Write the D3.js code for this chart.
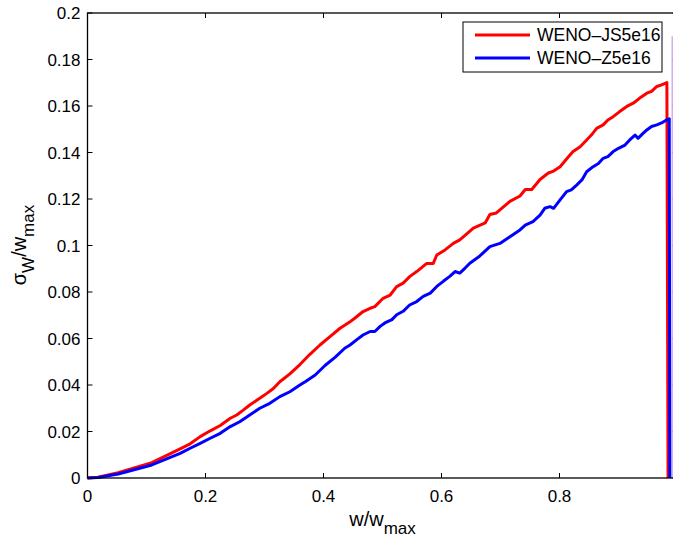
<!DOCTYPE html>
<html>
<head>
<meta charset="utf-8">
<title>WENO sigma_w / w_max</title>
<script src="https://d3js.org/d3.v7.min.js"></script>
<style>
  body { margin: 0; background: #fff; }
  svg { display: block; font-family: "Liberation Sans", Arial, Helvetica, sans-serif; }
  .tick-label { font-size: 17px; fill: #000; }
  .axis-label { font-size: 20px; fill: #000; }
  .legend-text { font-size: 17.5px; fill: #000; }
</style>
</head>
<body>
<div id="chart"></div>
<script>
// x values (w/wmax) and sigma_w/wmax
var jsW = [0, 0.018, 0.052, 0.109, 0.157, 0.174, 0.191, 0.208, 0.225, 0.242, 0.253, 0.264, 0.275, 0.292, 0.304, 0.315, 0.326, 0.343, 0.36, 0.377,
  0.394, 0.411, 0.428, 0.445, 0.453, 0.467, 0.479, 0.487, 0.501, 0.513, 0.524, 0.535, 0.546, 0.558, 0.575, 0.586, 0.592, 0.606, 0.62, 0.631,
  0.654, 0.674, 0.682, 0.693, 0.716, 0.733, 0.742, 0.753, 0.767, 0.781, 0.79, 0.801, 0.813, 0.823, 0.835, 0.846, 0.854, 0.863, 0.874, 0.882,
  0.891, 0.902, 0.914, 0.925, 0.936, 0.948, 0.956, 0.965, 0.973, 0.982, 0.984];
var jsS = [0, 0.0003, 0.0023, 0.0066, 0.0125, 0.0147, 0.0178, 0.0203, 0.0226, 0.0257, 0.0271, 0.0292, 0.0314, 0.0343, 0.0364, 0.0385, 0.0414, 0.0448, 0.0488, 0.0532,
  0.0572, 0.0608, 0.0644, 0.0672, 0.0687, 0.0716, 0.073, 0.0737, 0.0773, 0.0787, 0.0823, 0.0838, 0.0866, 0.0888, 0.0923, 0.0923, 0.0959, 0.0981, 0.1009, 0.1024,
  0.1075, 0.1097, 0.1133, 0.114, 0.119, 0.1213, 0.1241, 0.1241, 0.1284, 0.1312, 0.132, 0.1339, 0.1375, 0.1404, 0.1425, 0.1454, 0.1475, 0.1504, 0.1519, 0.154,
  0.1554, 0.1576, 0.1598, 0.1612, 0.1634, 0.1655, 0.1663, 0.1684, 0.1691, 0.1701, 0];

var zW = [0, 0.018, 0.052, 0.109, 0.157, 0.174, 0.191, 0.208, 0.225, 0.242, 0.258, 0.275, 0.292, 0.309, 0.326, 0.343, 0.36, 0.369, 0.386, 0.403,
  0.42, 0.436, 0.445, 0.456, 0.467, 0.479, 0.487, 0.496, 0.504, 0.516, 0.524, 0.535, 0.546, 0.558, 0.569, 0.581, 0.592, 0.603, 0.614, 0.623,
  0.631, 0.64, 0.648, 0.665, 0.682, 0.699, 0.716, 0.733, 0.742, 0.755, 0.767, 0.775, 0.784, 0.79, 0.801, 0.812, 0.82, 0.829, 0.838, 0.846,
  0.857, 0.866, 0.874, 0.882, 0.891, 0.9, 0.911, 0.919, 0.928, 0.933, 0.942, 0.948, 0.956, 0.965, 0.973, 0.982, 0.986, 0.987];
var zS = [0, 0.0002, 0.0017, 0.0056, 0.0106, 0.0128, 0.0149, 0.0171, 0.0192, 0.0221, 0.0242, 0.0271, 0.03, 0.0321, 0.035, 0.0371, 0.04, 0.0414, 0.0443, 0.0485,
  0.052, 0.0558, 0.0572, 0.0594, 0.0615, 0.063, 0.063, 0.0652, 0.0667, 0.0681, 0.0702, 0.0717, 0.0744, 0.0759, 0.0781, 0.0795, 0.0824, 0.0846, 0.0867, 0.0888,
  0.0881, 0.0903, 0.0924, 0.0955, 0.0995, 0.1009, 0.1038, 0.1067, 0.1088, 0.1103, 0.1131, 0.116, 0.1167, 0.116, 0.1196, 0.1232, 0.1239, 0.126, 0.1282, 0.1317,
  0.1339, 0.1353, 0.1375, 0.1382, 0.1404, 0.1418, 0.1432, 0.1454, 0.1475, 0.1461, 0.1483, 0.1497, 0.1512, 0.1519, 0.1527, 0.1541, 0.1545, 0];

// faint trace at the right edge
var edgeW = [0.991, 0.991];
var edgeS = [0.19, 0];

var xTicks = [0, 0.2, 0.4, 0.6, 0.8, 1];
var yTicks = [0, 0.02, 0.04, 0.06, 0.08, 0.1, 0.12, 0.14, 0.16, 0.18, 0.2];
var seriesNames = ["WENO\u2013JS5e16", "WENO\u2013Z5e16"];
var seriesColors = ["#ff0000", "#0000ff"];

var W = 673, H = 545;
var margin = {top: 13, right: -4.5, bottom: 67, left: 87.5};
var width = W - margin.left - margin.right,
    height = H - margin.top - margin.bottom;

var svg = d3.select("#chart").append("svg")
    .attr("width", W)
    .attr("height", H);

var g = svg.append("g")
    .attr("transform", "translate(" + margin.left + "," + margin.top + ")");

var x = d3.scaleLinear().domain([0, 1]).range([0, width]);
var y = d3.scaleLinear().domain([0, 0.2]).range([height, 0]);

var tickLen = 5;

// frame ticks (inward, MATLAB style)
var ax = g.append("g").attr("stroke", "#000").attr("stroke-width", 1);
xTicks.forEach(function(t) {
  ax.append("line").attr("x1", x(t)).attr("x2", x(t)).attr("y1", height).attr("y2", height - tickLen);
  ax.append("line").attr("x1", x(t)).attr("x2", x(t)).attr("y1", 0).attr("y2", tickLen);
});
yTicks.forEach(function(t) {
  ax.append("line").attr("x1", 0).attr("x2", tickLen).attr("y1", y(t)).attr("y2", y(t));
  ax.append("line").attr("x1", width).attr("x2", width - tickLen).attr("y1", y(t)).attr("y2", y(t));
});

// tick labels
g.selectAll(".xlab").data(xTicks.filter(function(t) { return t < 1; })).enter()
  .append("text")
    .attr("class", "tick-label")
    .attr("x", function(d) { return x(d); })
    .attr("y", height + 24)
    .attr("text-anchor", "middle")
    .text(function(d) { return d3.format("")(d); });

g.selectAll(".ylab").data(yTicks).enter()
  .append("text")
    .attr("class", "tick-label")
    .attr("x", -7)
    .attr("y", function(d) { return y(d) + 6; })
    .attr("text-anchor", "end")
    .text(function(d) { return d3.format("")(+d.toFixed(2)); });

// lines
var line = d3.line()
  .x(function(d) { return x(d[0]); })
  .y(function(d) { return y(d[1]); });

g.append("path")
  .datum(edgeW.map(function(w, i) { return [w, edgeS[i]]; }))
  .attr("fill", "none")
  .attr("stroke", "#c29be6")
  .attr("stroke-width", 1.2)
  .attr("d", line);

g.append("path")
  .datum(jsW.map(function(w, i) { return [w, jsS[i]]; }))
  .attr("fill", "none")
  .attr("stroke", seriesColors[0])
  .attr("stroke-width", 3)
  .attr("stroke-linejoin", "round")
  .attr("d", line);

g.append("path")
  .datum(zW.map(function(w, i) { return [w, zS[i]]; }))
  .attr("fill", "none")
  .attr("stroke", seriesColors[1])
  .attr("stroke-width", 3)
  .attr("stroke-linejoin", "round")
  .attr("d", line);

// frame
g.append("rect")
  .attr("x", 0).attr("y", 0)
  .attr("width", width).attr("height", height)
  .attr("fill", "none")
  .attr("stroke", "#000")
  .attr("stroke-width", 1.3);

// axis labels
var xl = svg.append("text")
  .attr("class", "axis-label")
  .attr("text-anchor", "middle")
  .attr("x", margin.left + x(0.5))
  .attr("y", 526);
xl.append("tspan").text("w/w");
xl.append("tspan").attr("dy", 8).attr("font-size", "17px").text("max");

var yl = svg.append("text")
  .attr("class", "axis-label")
  .attr("text-anchor", "middle")
  .attr("transform", "translate(26,245) rotate(-90)");
yl.append("tspan").text("\u03c3");
yl.append("tspan").attr("dy", 8).attr("font-size", "17px").text("W");
yl.append("tspan").attr("dy", -8).text("/w");
yl.append("tspan").attr("dy", 8).attr("font-size", "17px").text("max");

// legend
var legend = svg.append("g").attr("transform", "translate(463,22)");
legend.append("rect")
  .attr("width", 199).attr("height", 50)
  .attr("fill", "#fff").attr("stroke", "#000").attr("stroke-width", 1);

var items = legend.selectAll(".legend-item").data(seriesNames).enter()
  .append("g")
    .attr("transform", function(d, i) { return "translate(0," + (13 + i * 23) + ")"; });

items.append("line")
  .attr("x1", 12).attr("x2", 67)
  .attr("y1", 0).attr("y2", 0)
  .attr("stroke", function(d, i) { return seriesColors[i]; })
  .attr("stroke-width", 3);

items.append("text")
  .attr("class", "legend-text")
  .attr("x", 74)
  .attr("y", 6)
  .text(function(d) { return d; });
</script>
</body>
</html>
